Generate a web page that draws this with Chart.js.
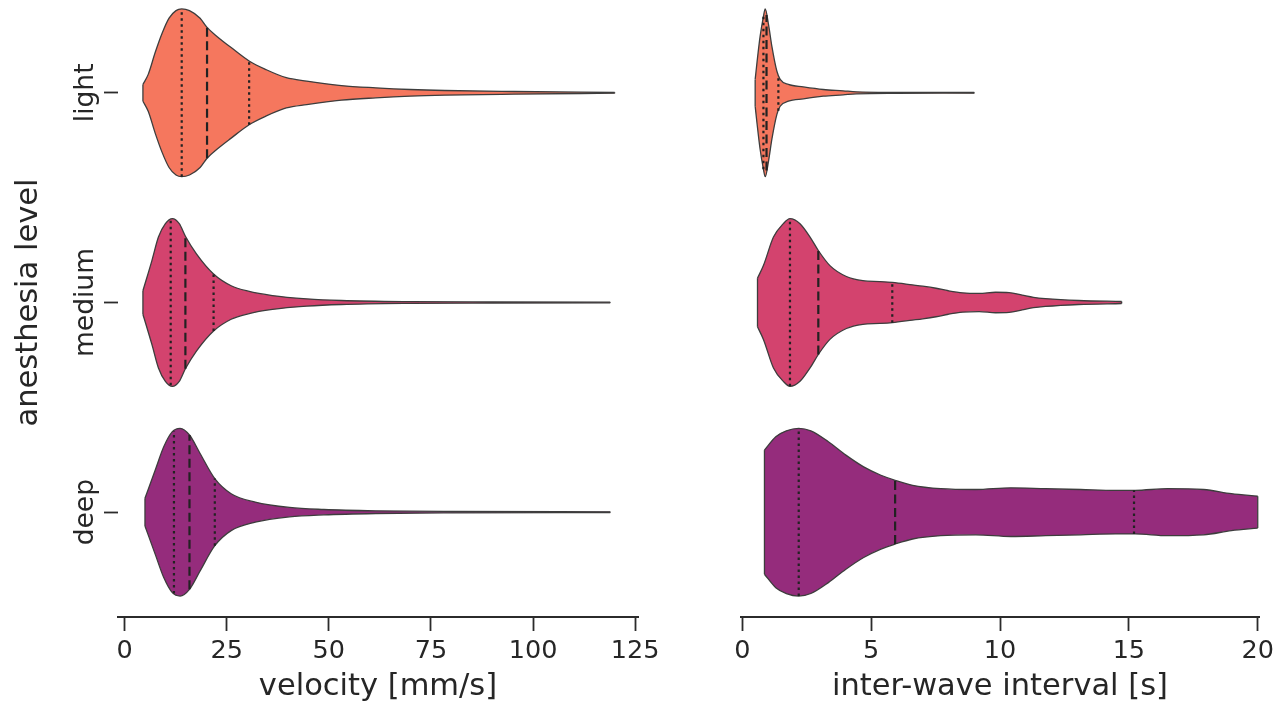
<!DOCTYPE html>
<html>
<head>
<meta charset="utf-8">
<script src="https://cdn.jsdelivr.net/npm/chart.js@4.4.1/dist/chart.umd.min.js"></script>
<style>
  html, body { margin: 0; padding: 0; background: #fff; overflow: hidden; }
  body { width: 1279px; height: 703px; position: relative; }
  canvas { position: absolute; top: -12px; }
  #velocity { left: 0; }
  #interval { left: 690px; }
</style>
</head>
<body>
<canvas id="velocity" width="670" height="715"></canvas>
<canvas id="interval" width="589" height="715"></canvas>
<script>
// anesthesia levels, bottom to top
const levels = ['deep', 'medium', 'light'];
const levelPos = [0, 1, 2];
const velocityTicks = [0, 25, 50, 75, 100, 125];
const intervalTicks = [0, 5, 10, 15, 20];

// velocity [mm/s]: sample points, relative density (1 = widest), quartiles
const velDeepX = [5.0, 7.5, 9.6, 11.7, 13.6, 15.9, 18.5, 22.1, 26.1, 32, 40.4, 48.8, 61.5, 80, 118.9];
const velDeepD = [0.165, 0.5, 0.78, 0.96, 1.0, 0.92, 0.70, 0.40, 0.22, 0.12, 0.056, 0.032, 0.016, 0.008, 0.004];
const velDeepQ = [12.1, 15.9, 22.1];

const velMediumX = [4.5, 6.7, 8.3, 10.0, 11.7, 13.4, 14.9, 17.6, 21.8, 26.1, 30.3, 36.2, 44.6, 53.1, 69.9, 90, 118.9];
const velMediumD = [0.14, 0.5, 0.78, 0.94, 1.0, 0.94, 0.79, 0.58, 0.34, 0.2, 0.135, 0.083, 0.044, 0.024, 0.01, 0.006, 0.004];
const velMediumQ = [11.3, 14.9, 21.8];

const velLightX = [4.5, 5.8, 7.5, 9.2, 10.9, 12.6, 14.0, 15.9, 18.5, 20.2, 22.7, 26.1, 30.5, 34.5, 39.6, 44.6, 53.1, 61.5, 69.9, 78.4, 95.3, 120];
const velLightD = [0.10, 0.22, 0.48, 0.71, 0.89, 0.98, 1.0, 0.98, 0.89, 0.78, 0.67, 0.54, 0.38, 0.28, 0.18, 0.14, 0.087, 0.06, 0.04, 0.028, 0.016, 0.004];
const velLightQ = [14.0, 20.2, 30.5];

// inter-wave interval [s]
const ivlDeepX = [0.86, 1.3, 1.71, 2.19, 2.66, 3.34, 4.02, 4.71, 5.38, 5.93, 6.61, 7.7, 9.06, 10.42, 11.77, 13.13, 14.49, 15.24, 16.5, 17.9, 18.98, 20.0];
const ivlDeepD = [0.74, 0.9, 0.97, 1.0, 0.97, 0.84, 0.68, 0.54, 0.44, 0.38, 0.32, 0.28, 0.27, 0.29, 0.28, 0.27, 0.26, 0.26, 0.28, 0.27, 0.22, 0.19];
const ivlDeepQ = [2.19, 5.93, 15.2];

const ivlMediumX = [0.59, 0.82, 1.21, 1.59, 1.85, 2.24, 2.63, 2.95, 3.4, 4.04, 4.68, 5.33, 5.82, 6.61, 7.0, 7.52, 8.0, 8.55, 9.19, 9.83, 10.35, 10.86, 11.3, 11.76, 13.05, 14.72];
const ivlMediumD = [0.29, 0.44, 0.78, 0.94, 1.0, 0.94, 0.78, 0.62, 0.44, 0.31, 0.26, 0.25, 0.24, 0.21, 0.195, 0.17, 0.14, 0.115, 0.108, 0.122, 0.118, 0.088, 0.062, 0.047, 0.024, 0.012];
const ivlMediumQ = [1.85, 2.95, 5.82];

const ivlLightX = [0.5, 0.57, 0.69, 0.82, 0.89, 1.02, 1.15, 1.34, 1.47, 1.79, 2.37, 3.14, 3.91, 4.43, 6.0, 9.0];
const ivlLightD = [0.16, 0.36, 0.67, 0.91, 1.0, 0.81, 0.55, 0.26, 0.16, 0.10, 0.071, 0.04, 0.024, 0.012, 0.006, 0.004];
const ivlLightQ = [0.82, 0.94, 1.4];

const levelColors = ['#952c7c', '#d3436e', '#f5775e'];
const TEXT = '#262626';
const AXIS = '#2b2b2b';
const OUTLINE = '#3d3d3d';
const INNER = '#222222';
const HALF = 0.4; // half of the violin width, in category units

Chart.defaults.font.family = '"DejaVu Sans"';
Chart.defaults.color = TEXT;

function densityAt(xs, ds, v) {
  for (let i = 1; i < xs.length; i++) {
    if (v <= xs[i]) {
      const t = (v - xs[i - 1]) / (xs[i] - xs[i - 1]);
      return ds[i - 1] + t * (ds[i] - ds[i - 1]);
    }
  }
  return ds[ds.length - 1];
}

function buildViolins(groups) {
  const sets = [];
  groups.forEach((g, i) => {
    const pos = levelPos[i];
    const up = g.x.map((v, k) => ({x: v, y: pos + g.d[k] * HALF}));
    const lo = g.x.map((v, k) => ({x: v, y: pos - g.d[k] * HALF}));
    const upIdx = sets.length;
    sets.push({data: up, borderColor: OUTLINE, borderWidth: 1.3, fill: false,
      cubicInterpolationMode: 'monotone', order: 2});
    sets.push({data: lo, borderColor: OUTLINE, borderWidth: 1.3, fill: upIdx,
      backgroundColor: levelColors[i], cubicInterpolationMode: 'monotone', order: 2});
    // flat ends of the violin (data cut at min / max)
    [0, g.x.length - 1].forEach(k => {
      sets.push({data: [lo[k], up[k]], borderColor: OUTLINE, borderWidth: 1.3, fill: false, order: 1});
    });
    // quartile lines: dotted Q1/Q3, dashed median
    g.q.forEach((q, k) => {
      const h = densityAt(g.x, g.d, q) * HALF;
      sets.push({
        data: [{x: q, y: pos - h}, {x: q, y: pos + h}],
        borderColor: INNER, borderWidth: 2.2, fill: false, order: 0,
        borderDash: k === 1 ? [9, 4.5] : [2.5, 3.5]
      });
    });
  });
  return sets;
}

const levelLabels = {
  id: 'levelLabels',
  afterDraw(chart) {
    const {ctx} = chart;
    const y = chart.scales.y;
    ctx.save();
    ctx.font = '26.5px "DejaVu Sans"';
    ctx.fillStyle = TEXT;
    ctx.textAlign = 'center';
    ctx.textBaseline = 'alphabetic';
    levels.forEach((name, i) => {
      ctx.save();
      ctx.translate(y.right - 25, y.getPixelForValue(levelPos[i]));
      ctx.rotate(-Math.PI / 2);
      ctx.fillText(name, 0, 0);
      ctx.restore();
    });
    ctx.restore();
  }
};

function xScale(title, ticks, min, max) {
  return {
    type: 'linear', min: min, max: max,
    afterBuildTicks: s => { s.ticks = ticks.map(v => ({value: v})); },
    afterFit: s => { s.height = 86; },
    ticks: {font: {size: 25.5}, color: TEXT, padding: 5, maxRotation: 0, autoSkip: false,
      callback: v => String(v)},
    grid: {drawOnChartArea: false, drawTicks: true, tickLength: 14, tickColor: AXIS, tickWidth: 1.8},
    border: {display: true, color: AXIS, width: 2},
    title: {display: true, text: title, color: TEXT, font: {size: 30.5, lineHeight: 1},
      padding: {top: 0, bottom: 1}}
  };
}

const baseOptions = {
  responsive: false,
  animation: false,
  devicePixelRatio: 1,
  elements: {point: {radius: 0}},
  plugins: {legend: {display: false}, tooltip: {enabled: false}}
};

new Chart(document.getElementById('velocity'), {
  type: 'line',
  data: {datasets: buildViolins([
    {x: velDeepX, d: velDeepD, q: velDeepQ},
    {x: velMediumX, d: velMediumD, q: velMediumQ},
    {x: velLightX, d: velLightD, q: velLightQ}
  ])},
  options: Object.assign({}, baseOptions, {
    layout: {padding: {top: 0, right: 32, bottom: 0, left: 0}},
    scales: {
      x: xScale('velocity [mm/s]', velocityTicks, -1.6, 125.7),
      y: {
        type: 'linear', min: -0.5, max: 2.5,
        afterBuildTicks: s => { s.ticks = levelPos.map(v => ({value: v})); },
        afterFit: s => { s.width = 118; },
        ticks: {display: false},
        grid: {drawOnChartArea: false, drawTicks: true, tickLength: 14, tickColor: AXIS, tickWidth: 1.8},
        border: {display: false},
        title: {display: true, text: 'anesthesia level', color: TEXT,
          font: {size: 30.5, lineHeight: 1}, padding: {top: 13.5, bottom: 0}}
      }
    }
  }),
  plugins: [levelLabels]
});

new Chart(document.getElementById('interval'), {
  type: 'line',
  data: {datasets: buildViolins([
    {x: ivlDeepX, d: ivlDeepD, q: ivlDeepQ},
    {x: ivlMediumX, d: ivlMediumD, q: ivlMediumQ},
    {x: ivlLightX, d: ivlLightD, q: ivlLightQ}
  ])},
  options: Object.assign({}, baseOptions, {
    layout: {padding: {top: 0, right: 19, bottom: 0, left: 51}},
    scales: {
      x: xScale('inter-wave interval [s]', intervalTicks, -0.05, 20.05),
      y: {type: 'linear', min: -0.5, max: 2.5, display: false}
    }
  })
});
</script>
</body>
</html>
